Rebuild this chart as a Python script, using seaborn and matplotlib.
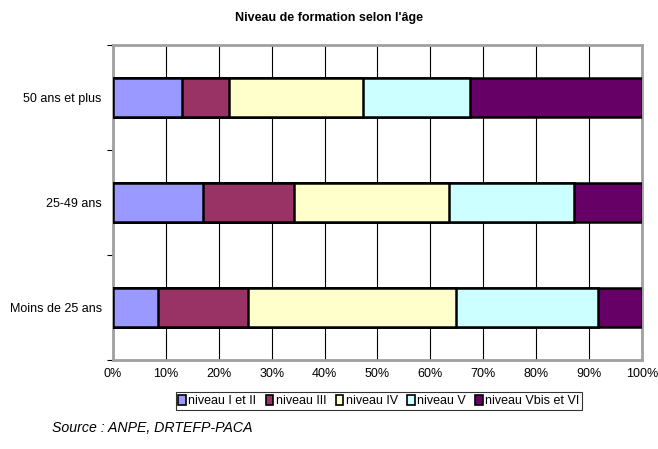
import numpy as np
import pandas as pd
import matplotlib
matplotlib.use("Agg")
import matplotlib.pyplot as plt
from matplotlib.patches import Patch
import seaborn as sns

# age groups, top to bottom
ages = ["50 ans et plus", "25-49 ans", "Moins de 25 ans"]

# share (%) of each training level per age group
niveau_1_2 = [13.1, 17.1, 8.5]
niveau_3 = [8.9, 17.1, 17.1]
niveau_4 = [25.2, 29.3, 39.3]
niveau_5 = [20.3, 23.6, 26.7]
niveau_6 = [32.5, 12.9, 8.4]

levels = ["niveau I et II", "niveau III", "niveau IV", "niveau V",
          "niveau Vbis et VI"]
colors = ["#9999FF", "#993366", "#FFFFCC", "#CCFFFF", "#660066"]

sns.set_theme(style="white")
plt.rcParams['font.family'] = ['Liberation Sans', 'DejaVu Sans']
plt.rcParams['text.color'] = 'black'
plt.rcParams['xtick.color'] = 'black'
plt.rcParams['ytick.color'] = 'black'

df = pd.DataFrame({"age": ages, levels[0]: niveau_1_2, levels[1]: niveau_3,
                   levels[2]: niveau_4, levels[3]: niveau_5,
                   levels[4]: niveau_6})
cum = df[levels].cumsum(axis=1)

fig = plt.figure(figsize=(6.58, 4.49), dpi=100)
ax = fig.add_axes([0.1717, 0.1982, 0.8040, 0.7016])

# stacked bars: draw cumulative totals from the largest down
for lev, col in zip(reversed(levels), reversed(colors)):
    sns.barplot(x=cum[lev], y=df["age"], color=col, orient="h", width=0.38,
                edgecolor="black", linewidth=1.8, saturation=1, ax=ax,
                zorder=3)

ax.set_xlim(0, 100)
ax.set_ylim(2.5, -0.5)
ax.set_xticks(np.arange(0, 101, 10))
ax.set_xticklabels(["{}%".format(v) for v in range(0, 101, 10)],
                   fontsize=9)
ax.set_yticks([0, 1, 2])
ax.set_yticklabels(ages, fontsize=9)
ax.set_yticks([-0.5, 0.5, 1.5, 2.5], minor=True)
ax.tick_params(axis="y", which="major", length=0, pad=8)
ax.tick_params(axis="y", which="minor", length=4, width=0.8, color="black",
               left=True)
ax.tick_params(axis="x", length=0, pad=6)
ax.set_xlabel("")
ax.set_ylabel("")
ax.grid(axis="x", color="black", linewidth=0.8, zorder=0)
ax.set_axisbelow(True)
for sp in ax.spines.values():
    sp.set_color("#a0a0a0")
    sp.set_linewidth(2)

fig.text(0.5, 1 - 18 / 449, "Niveau de formation selon l'âge",
         ha="center", va="center", fontsize=9, fontweight="bold")

handles = [Patch(facecolor=c, edgecolor="black", linewidth=1.2)
           for c in colors]
leg = fig.legend(handles, levels, loc="center",
                 bbox_to_anchor=(379 / 658, 1 - 401 / 449), ncol=5,
                 fontsize=9, frameon=True, fancybox=False,
                 handlelength=0.6, handleheight=0.9, handletextpad=0.2,
                 columnspacing=0.75, borderpad=0.2, borderaxespad=0)
leg.get_frame().set_edgecolor("black")
leg.get_frame().set_linewidth(0.8)

fig.text(52 / 658, 1 - 428 / 449, "Source : ANPE, DRTEFP-PACA",
         ha="left", va="center", fontsize=10.2, style="italic")

fig.savefig("out.png", dpi=100)
